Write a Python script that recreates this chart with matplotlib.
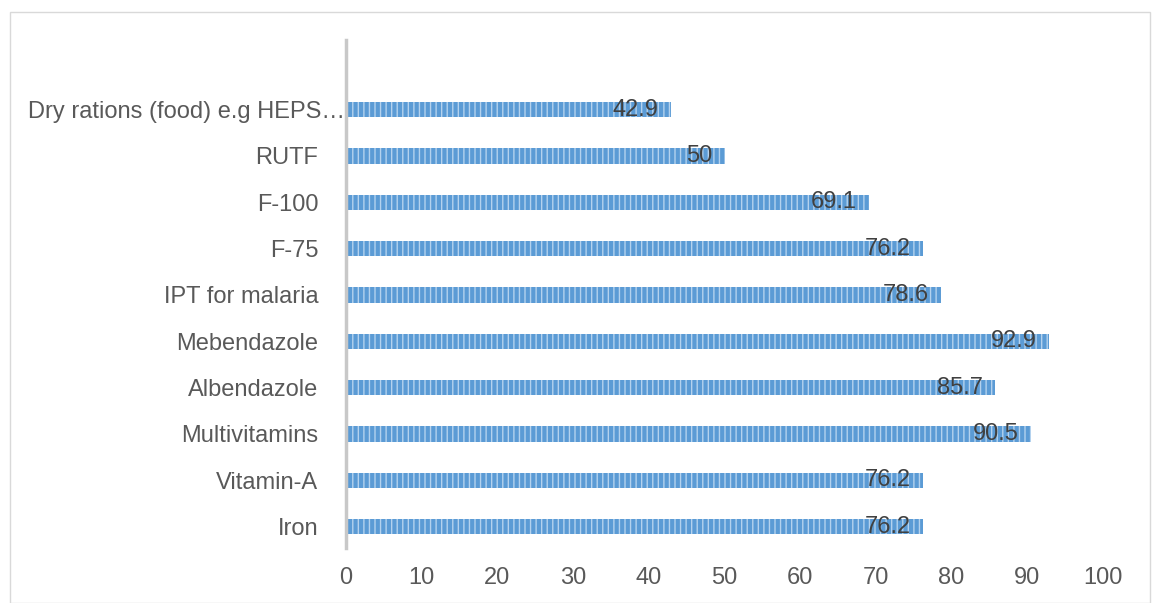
import matplotlib.pyplot as plt
from matplotlib.patches import Rectangle

categories = ['Iron', 'Vitamin-A', 'Multivitamins', 'Albendazole', 'Mebendazole',
              'IPT for malaria', 'F-75', 'F-100', 'RUTF', 'Dry rations (food) e.g HEPS\u2026']
values = [76.2, 76.2, 90.5, 85.7, 92.9, 78.6, 76.2, 69.1, 50, 42.9]
value_labels = ['76.2', '76.2', '90.5', '85.7', '92.9', '78.6', '76.2', '69.1', '50', '42.9']
xticks = [0, 10, 20, 30, 40, 50, 60, 70, 80, 90, 100]

plt.rcParams['font.family'] = ['Liberation Sans', 'DejaVu Sans']
plt.rcParams['hatch.linewidth'] = 1.0

fig = plt.figure(figsize=(11.57, 6.03), dpi=100)
ax = fig.add_axes([346 / 1157, 1 - 548 / 603, (1103 - 346) / 1157, (548 - 40) / 603])

ypos = list(range(len(categories)))
ax.barh(ypos, values, height=0.33, color='#5b9bd5', edgecolor='#b4d2ee',
        linewidth=0, hatch='|||')

for y, v, lab in zip(ypos, values, value_labels):
    ax.text(v - 1.6, y, lab, ha='right', va='center', fontsize=17, color='#404040')

ax.set_xlim(0, 100)
ax.set_ylim(-0.46, 10.5)
ax.set_xticks(xticks)
ax.set_yticks(ypos)
ax.set_yticklabels(categories)
ax.tick_params(axis='x', length=0, labelsize=17, labelcolor='#595959', pad=14)
ax.tick_params(axis='y', length=0, labelsize=17, labelcolor='#595959', pad=20)
# the long label runs right up to the axis, like the truncated one in the source
ax.yaxis.get_major_ticks()[-1].set_pad(1)

for s in ['top', 'right', 'bottom']:
    ax.spines[s].set_visible(False)
ax.spines['left'].set_color('#c8c8c8')
ax.spines['left'].set_linewidth(2.5)

# thin outer frame like the source chart
fig.patches.append(Rectangle((10 / 1157, 0.0), 1140 / 1157, 1 - 12 / 603,
                             transform=fig.transFigure, fill=False,
                             edgecolor='#d9d9d9', linewidth=1))

fig.savefig('out.png', dpi=100)
